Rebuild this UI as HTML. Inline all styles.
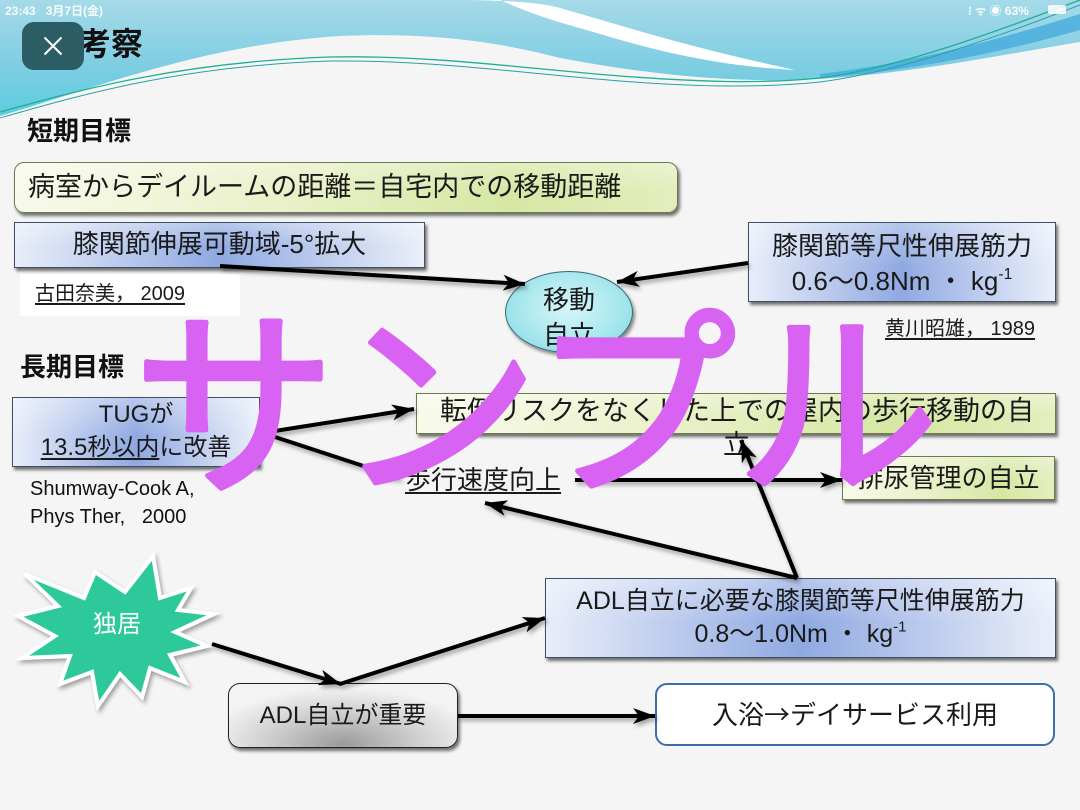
<!DOCTYPE html>
<html><head><meta charset="utf-8">
<style>
*{margin:0;padding:0;box-sizing:border-box}
html,body{width:1080px;height:810px;overflow:hidden;background:#f5f5f5}
body{position:relative;font-family:"Liberation Sans","Noto Sans CJK JP",sans-serif;color:#1a1a1a}
.abs{position:absolute}
.box{position:absolute;box-shadow:2px 3px 3px rgba(0,0,0,.55)}
.blue{border:1.5px solid #3f4f6a;background:linear-gradient(180deg,rgba(255,255,255,.35),rgba(255,255,255,0) 55%),linear-gradient(90deg,#e8edf9 0%,#b7c7ec 28%,#8fa9e1 50%,#b7c7ec 72%,#eaeff9 100%)}
.green{border:1.5px solid #6d7b4e;background:linear-gradient(180deg,rgba(255,255,255,.3),rgba(255,255,255,0) 60%),linear-gradient(90deg,#f8faea 0%,#e9f1c9 40%,#d6e7a4 75%,#e3eebd 100%)}
.c{text-align:center}
.t{font-size:26px;line-height:34px;white-space:nowrap}
.j{font-family:"Noto Sans CJK JP",sans-serif}
u{text-decoration:underline;text-decoration-thickness:1.5px;text-underline-offset:3px}
</style></head><body>

<!-- header waves -->
<svg class="abs" style="left:0;top:0" width="1080" height="140" viewBox="0 0 1080 140">
<defs>
<linearGradient id="sky" x1="0" y1="0" x2="0" y2="1">
<stop offset="0" stop-color="#a6dae8"/><stop offset="0.6" stop-color="#7ccde2"/><stop offset="1" stop-color="#5ccde0"/>
</linearGradient>
</defs>
<path d="M0,0 H1080 V42 C1000,55 900,76 800,80 C730,82 650,75 560,58 C500,42 430,32 340,36 C200,45 90,90 0,116 Z" fill="url(#sky)"/>
<path d="M820,74 C920,62 1010,36 1080,14 L1080,30 C1010,50 920,70 820,78 Z" fill="#42a8dc" opacity="0.75"/>
<path d="M455,0 C500,0 540,2 560,8 C620,25 680,45 795,70 C720,66 660,52 600,34 C570,25 540,18 500,0 Z" fill="#ffffff"/>
<path d="M0,112 C80,90 180,62 330,57 C430,55 520,68 620,76 C700,82 760,84 820,78 C900,68 1000,30 1080,0" fill="none" stroke="#1fae96" stroke-width="1.3"/>
<path d="M0,118 C80,95 180,66 330,61 C430,60 520,73 620,81 C700,87 760,88 820,82 C900,72 1000,36 1080,5" fill="none" stroke="#2a9fa8" stroke-width="1"/>
</svg>

<!-- status bar -->
<div class="abs" style="left:5px;top:2px;font-size:12px;font-weight:bold;color:#fff;opacity:.9">23:43&nbsp;&nbsp; 3月7日(金)</div>
<div class="abs" style="left:968px;top:2px;font-size:12px;font-weight:bold;color:#fff;opacity:.9">⁝ ᯤ ◉ 63%</div>
<div class="abs" style="left:1048px;top:5px;width:18px;height:9px;border-radius:2px;background:#fff;opacity:.85"></div>

<!-- title -->
<div class="abs" style="left:79px;top:22px;font-size:32px;font-weight:bold;color:#111;line-height:44px">考察</div>
<div class="abs" style="left:22px;top:22px;width:62px;height:48px;border-radius:12px;background:#2c5c64"></div>
<div class="abs" style="left:41px;top:45px;width:24px;height:2px;background:#fff;transform:rotate(45deg)"></div>
<div class="abs" style="left:41px;top:45px;width:24px;height:2px;background:#fff;transform:rotate(-45deg)"></div>

<div class="abs" style="left:27px;top:114px;font-size:26px;font-weight:bold;line-height:34px;color:#111">短期目標</div>
<div class="abs" style="left:20px;top:350px;font-size:26px;font-weight:bold;line-height:34px;color:#111">長期目標</div>

<!-- short-term boxes -->
<div class="box green" style="left:14px;top:162px;width:664px;height:51px;border-radius:10px"></div>
<div class="abs t" style="left:28px;top:170px;font-size:27px">病室からデイルームの距離＝自宅内での移動距離</div>

<div class="box blue c" style="left:14px;top:222px;width:411px;height:46px"><div class="t" style="padding-top:4px">膝関節伸展可動域-5°拡大</div></div>

<div class="abs" style="left:20px;top:274px;width:220px;height:42px;background:#fff"></div>
<div class="abs" style="left:35px;top:280px;font-size:20px;line-height:28px"><u>古田奈美，&nbsp;2009</u></div>

<div class="box blue c" style="left:748px;top:222px;width:308px;height:80px"><div class="t" style="padding-top:6px;line-height:35px">膝関節等尺性伸展筋力<br>0.6〜0.8Nm ・ kg<sup style="font-size:60%;vertical-align:0.7em;line-height:0">-1</sup></div></div>
<div class="abs" style="left:885px;top:315px;font-size:20px;line-height:28px"><u>黄川昭雄，&nbsp;1989</u></div>

<!-- ellipse -->
<div class="abs c" style="left:505px;top:271px;width:128px;height:82px;border-radius:50%;border:1.5px solid #2d6d72;background:radial-gradient(ellipse at 50% 45%,#d8f6f8 0%,#a9e7ee 55%,#7fd6e2 100%);box-shadow:2px 3px 3px rgba(0,0,0,.45)"><div class="t" style="padding-top:11px;line-height:35px">移動<br>自立</div></div>

<!-- long-term -->
<div class="box blue c" style="left:12px;top:397px;width:248px;height:70px"><div class="t" style="font-size:24px;padding-top:0px;line-height:33px">TUGが<br><u>13.5秒以内</u>に改善</div></div>
<div class="abs" style="left:30px;top:475px;font-size:20px;line-height:28px;color:#111">Shumway-Cook A,<br>Phys Ther,&nbsp;&nbsp; 2000</div>

<div class="box green" style="left:416px;top:393px;width:640px;height:41px"></div>
<div class="abs t" style="left:440px;top:394px;font-size:27px">転倒リスクをなくした上での屋内の歩行移動の自</div>
<div class="abs t" style="left:723px;top:430px;font-size:27px;height:28px;overflow:hidden"><span style="position:relative;top:-2px">立</span></div>

<div class="abs t" style="left:405px;top:463px"><u>歩行速度向上</u></div>

<div class="box green c" style="left:842px;top:456px;width:213px;height:44px"><div class="t" style="padding-top:4px">排尿管理の自立</div></div>

<div class="box blue c" style="left:545px;top:578px;width:511px;height:80px"><div class="t" style="font-size:25px;padding-top:6px;line-height:33px">ADL自立に必要な膝関節等尺性伸展筋力<br>0.8〜1.0Nm ・ kg<sup style="font-size:60%;vertical-align:0.7em;line-height:0">-1</sup></div></div>

<div class="box c" style="left:228px;top:683px;width:230px;height:65px;border-radius:12px;border:1.5px solid #222;background:radial-gradient(ellipse 60% 90% at 50% 95%,#9c9c9c 0%,#cfcfcf 55%,#f3f3f3 100%)"><div class="t" style="font-size:24px;padding-top:15px">ADL自立が重要</div></div>

<div class="abs c" style="left:655px;top:683px;width:400px;height:63px;border-radius:12px;border:2.5px solid #3b6eaa;background:#fff"><div class="t" style="padding-top:12px">入浴<span class="j">→</span>デイサービス利用</div></div>

<!-- starburst + arrows -->
<svg class="abs" style="left:0;top:0" width="1080" height="810" viewBox="0 0 1080 810">
<defs>
<marker id="ah" viewBox="0 0 22 16" refX="22" refY="8" markerWidth="22" markerHeight="16" markerUnits="userSpaceOnUse" orient="auto">
<path d="M0,0 L22,8 L0,16 L6,8 Z" fill="#000"/>
</marker>
<filter id="sh" x="-10%" y="-10%" width="130%" height="130%"><feDropShadow dx="2" dy="3" stdDeviation="2" flood-color="#000" flood-opacity="0.35"/></filter>
</defs>
<polygon filter="url(#sh)" points="153,556 160,598 191,588 178,610 214,614 175,632 207,646 170,655 185,682 150,668 142,697 120,674 98,706 92,672 60,684 70,656 22,658 55,636 18,616 58,606 25,574 84,598 95,572 125,592" fill="#2fc99a" stroke="#fff" stroke-width="4" stroke-linejoin="miter"/>
<text x="117" y="632" font-size="24" fill="#fff" text-anchor="middle" font-family="Liberation Sans, Noto Sans CJK JP, sans-serif">独居</text>
<g stroke="#000" stroke-width="4" fill="none" marker-end="url(#ah)" filter="url(#sh)">
<line x1="220" y1="266" x2="525" y2="284"/>
<line x1="748" y1="263" x2="617" y2="282"/>
<line x1="262" y1="433" x2="414" y2="409"/>
<line x1="272" y1="436" x2="400" y2="478"/>
<line x1="575" y1="480" x2="842" y2="480"/>
<line x1="797" y1="578" x2="485" y2="503"/>
<line x1="797" y1="578" x2="741" y2="440"/>
<line x1="212" y1="644" x2="341" y2="684"/>
<line x1="340" y1="684" x2="545" y2="618"/>
<line x1="458" y1="716" x2="655" y2="716"/>
</g>
</svg>

<!-- watermark -->
<svg class="abs" style="left:0;top:0" width="1080" height="810" viewBox="0 0 1080 810">
<text x="133" y="479" font-size="203" fill="#d862f2" stroke="#d862f2" stroke-width="5" stroke-linejoin="round" font-family="Liberation Sans, Noto Sans CJK JP, sans-serif">サンプル</text>
</svg>
</body></html>
